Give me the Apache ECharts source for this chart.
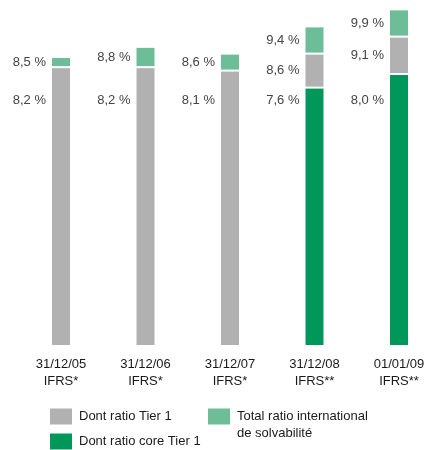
<!DOCTYPE html>
<html>
<head>
<meta charset="utf-8">
<script src="https://cdn.jsdelivr.net/npm/echarts@6/dist/echarts.min.js"></script>
<style>html,body{margin:0;padding:0;background:#fff;}#c{width:427px;height:450px;}</style>
</head>
<body>
<div id="c"></div>
<script>
var categories = ['31/12/05\nIFRS*', '31/12/06\nIFRS*', '31/12/07\nIFRS*', '31/12/08\nIFRS**', '01/01/09\nIFRS**'];
var coreTier1 = [null, null, null, 7.6, 8.0];
var tier1 = [8.2, 8.2, 8.1, 8.6, 9.1];
var totalRatio = [8.5, 8.8, 8.6, 9.4, 9.9];
var seriesNames = ['Dont ratio core Tier 1', 'Dont ratio Tier 1', 'Total ratio international\nde solvabilit\u00e9'];

var FONT = "'Liberation Sans', Arial, sans-serif";
function fmt(v) { return v.toFixed(1).replace('.', ',') + ' %'; }

var grayData = tier1.map(function (v, i) { return coreTier1[i] == null ? v : +(v - coreTier1[i]).toFixed(2); });
var topData = totalRatio.map(function (v, i) { return +(v - tier1[i]).toFixed(2); });

var chart = echarts.init(document.getElementById('c'), null, { renderer: 'canvas' });
var BOTTOM_LABEL_Y = 100;
var labelBase = { show: true, position: 'left', distance: 5, color: '#444', fontFamily: FONT, fontSize: 13 };
function bottomLayout(p) {
  return { x: p.rect.x - 5, y: BOTTOM_LABEL_Y, align: 'right', verticalAlign: 'middle' };
}
var legendText = { color: '#1a1a1a', fontFamily: FONT, fontSize: 13, lineHeight: 17, padding: [0, 0, 0, 2] };

chart.setOption({
  animation: false,
  backgroundColor: '#fff',
  grid: { left: 18.75, width: 422.5, top: 6, bottom: 104, containLabel: false, outerBoundsMode: 'none' },
  xAxis: {
    type: 'category', data: categories,
    axisLine: { show: false }, axisTick: { show: false },
    axisLabel: { color: '#1a1a1a', fontFamily: FONT, fontSize: 13, lineHeight: 17, margin: 10, interval: 0 }
  },
  yAxis: { type: 'value', min: 0, max: 10, show: false, splitLine: { show: false } },
  legend: [
    { data: [seriesNames[1]], left: 50, top: 408, padding: 0, itemWidth: 22, itemHeight: 16, icon: 'rect',
      itemStyle: { borderWidth: 0 }, textStyle: legendText },
    { data: [seriesNames[0]], left: 50, top: 433, padding: 0, itemWidth: 22, itemHeight: 16, icon: 'rect',
      itemStyle: { borderWidth: 0 }, textStyle: legendText },
    { data: [seriesNames[2]], left: 208, top: 391, padding: 0, itemWidth: 22, itemHeight: 16, icon: 'rect',
      itemStyle: { borderWidth: 0 }, textStyle: legendText,
      formatter: function (name) { return '\n' + name; } }
  ],
  series: [
    {
      name: seriesNames[0], type: 'bar', stack: 's', barWidth: 20, data: coreTier1,
      itemStyle: { color: '#00985a', borderColor: '#fff', borderWidth: 1 },
      label: Object.assign({}, labelBase, { formatter: function (p) { return fmt(coreTier1[p.dataIndex]); } }),
      labelLayout: bottomLayout
    },
    {
      name: seriesNames[1], type: 'bar', stack: 's', barWidth: 20, data: grayData,
      itemStyle: { color: '#b1b1b1', borderColor: '#fff', borderWidth: 1 },
      label: Object.assign({}, labelBase, { formatter: function (p) { return fmt(tier1[p.dataIndex]); } }),
      labelLayout: function (p) {
        if (coreTier1[p.dataIndex] == null) return bottomLayout(p);
        return {};
      }
    },
    {
      name: seriesNames[2], type: 'bar', stack: 's', barWidth: 20, data: topData,
      itemStyle: { color: '#6dbd98', borderColor: '#fff', borderWidth: 1 },
      label: Object.assign({}, labelBase, { formatter: function (p) { return fmt(totalRatio[p.dataIndex]); } })
    }
  ]
});
</script>
</body>
</html>
